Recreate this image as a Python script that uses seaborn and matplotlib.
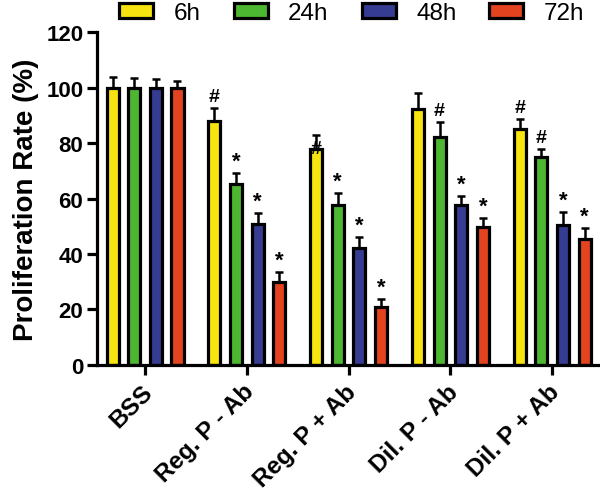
import numpy as np
import pandas as pd
import matplotlib
matplotlib.use("Agg")
import matplotlib.pyplot as plt
import matplotlib.transforms as mtransforms
import seaborn as sns

# --- data ---
groups = ["BSS", "Reg. P - Ab", "Reg. P + Ab", "Dil. P - Ab", "Dil. P + Ab"]
times = ["6h", "24h", "48h", "72h"]

mean_6h = [100, 88.0, 78.0, 92.3, 85.0]
mean_24h = [100, 65.2, 57.8, 82.2, 75.0]
mean_48h = [100, 50.8, 42.2, 57.8, 50.6]
mean_72h = [100, 29.8, 20.8, 49.7, 45.5]

sd_6h = [4.0, 4.8, 5.0, 5.8, 3.8]
sd_24h = [3.4, 4.0, 4.2, 5.4, 2.8]
sd_48h = [3.2, 4.0, 4.0, 3.2, 4.5]
sd_72h = [2.3, 3.6, 3.0, 3.2, 3.7]

marks_6h = ["", "#", "#", "", "#"]
marks_24h = ["", "*", "*", "#", "#"]
marks_48h = ["", "*", "*", "*", "*"]
marks_72h = ["", "*", "*", "*", "*"]

palette = ["#F7E30F", "#4DB731", "#363C92", "#E3431F"]

means = [mean_6h, mean_24h, mean_48h, mean_72h]
sds = [sd_6h, sd_24h, sd_48h, sd_72h]
marks = [marks_6h, marks_24h, marks_48h, marks_72h]

rows = []
for t, m, s, k in zip(times, means, sds, marks):
    for g, v, e, mk in zip(groups, m, s, k):
        rows.append({"group": g, "time": t, "value": v, "sd": e, "mark": mk})
df = pd.DataFrame(rows)

sns.set_style("ticks")
plt.rcParams["font.family"] = ["Liberation Sans", "DejaVu Sans"]
plt.rcParams.update({"text.color": "black", "axes.labelcolor": "black",
                     "xtick.color": "black", "ytick.color": "black",
                     "axes.edgecolor": "black"})

fig = plt.figure(figsize=(6.0, 5.02), dpi=100)
ax = fig.add_axes([0.162, 0.271, 0.838, 0.663])

sns.barplot(data=df, x="group", y="value", hue="time", order=groups,
            hue_order=times, palette=palette, width=0.85, gap=0.44,
            errorbar=None, edgecolor="black", linewidth=2.3, saturation=1,
            ax=ax)

# one-sided error bars + significance marks
for i, t in enumerate(times):
    cont = ax.containers[i]
    sub = df[df["time"] == t].set_index("group").loc[groups]
    xs = [p.get_x() + p.get_width() / 2 for p in cont.patches]
    ax.errorbar(xs, sub["value"], yerr=[np.zeros(len(xs)), sub["sd"]],
                fmt="none", ecolor="black", elinewidth=1.8, capsize=2.8,
                capthick=1.8, zorder=1)
    for x, v, e, mk, g in zip(xs, sub["value"], sub["sd"], sub["mark"], groups):
        if not mk:
            continue
        if g == "Reg. P + Ab" and t == "6h":
            ax.text(x, v - 3.0, mk, ha="center", va="bottom", fontsize=14,
                    fontweight="bold")
        elif mk == "*":
            ax.text(x, v + e + 0.5, mk, ha="center", va="bottom",
                    fontsize=16, fontweight="bold")
        else:
            ax.text(x, v + e + 1.0, mk, ha="center", va="bottom", fontsize=14,
                    fontweight="bold")

ax.set_ylim(0, 120)
ax.set_xlim(-0.47, 4.47)
ax.set_yticks([0, 20, 40, 60, 80, 100, 120])
ax.set_xlabel("")
ax.set_ylabel("Proliferation Rate (%)", fontsize=20, fontweight="bold", labelpad=5)

for sp in ["left", "bottom"]:
    ax.spines[sp].set_linewidth(2.3)
sns.despine(ax=ax)
ax.tick_params(axis="both", width=2.3, length=7)
ax.tick_params(axis="y", pad=3, labelsize=16)
for lbl in ax.get_yticklabels():
    lbl.set_fontweight("bold")
ax.set_xticks(range(len(groups)))
ax.set_xticklabels(groups, rotation=45, ha="right", rotation_mode="anchor",
                   fontsize=17.5, fontweight="bold")
shift = mtransforms.ScaledTranslation(-4 / 100, 0, fig.dpi_scale_trans)
for lbl in ax.get_xticklabels():
    lbl.set_transform(lbl.get_transform() + shift)

ax.legend(loc="upper left", bbox_to_anchor=(119 / 600, 1 - 3 / 502),
          bbox_transform=fig.transFigure, ncol=4, frameon=False,
          fontsize=17.5, handlelength=1.4, handleheight=0.6, columnspacing=1.35,
          handletextpad=0.85, borderaxespad=0, borderpad=0)

fig.savefig("out.png", dpi=100)
